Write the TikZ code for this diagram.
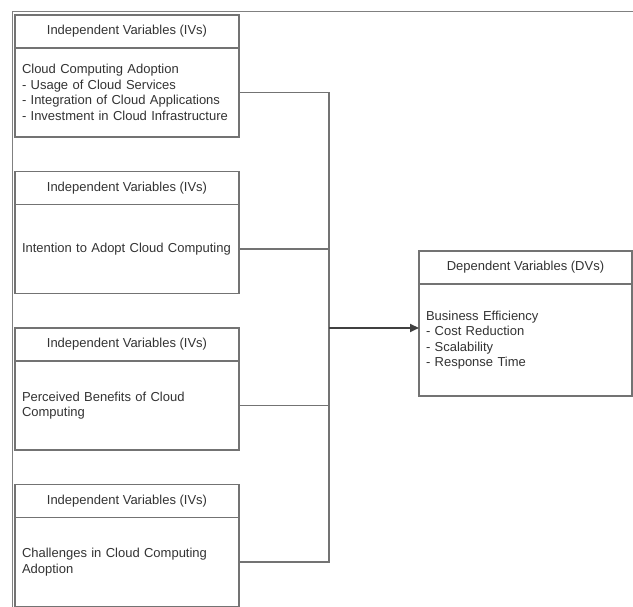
\documentclass[tikz,border=0pt]{standalone}
\usepackage{fontspec}
\setmainfont{Liberation Sans}
\usetikzlibrary{positioning,arrows.meta}
\colorlet{partLine}{black!55}
\colorlet{frameLine}{black!50}
\colorlet{partText}{black!80}
\colorlet{mainArrow}{black!75}

\begin{document}
\begin{tikzpicture}[
  x=1pt,
  y=1pt,
  every node/.style={
    font=\fontsize{13}{15.5}\selectfont,
    text=partText,
  },
  every part/.style={
    draw=partLine,
    line width=1.3pt,
    fill=white,
    outer sep=0pt,
    minimum width=224pt,
  },
  iv head/.style={
    every part/.try,
    minimum height=33pt,
  },
  iv body/.style={
    every part/.try,
    minimum height=89pt,
    text width=210pt,
    inner xsep=7pt,
    align=left,
  },
  dv head/.style={
    iv head,
    minimum width=213pt,
  },
  dv body/.style={
    every part/.try,
    minimum width=213pt,
    minimum height=112pt,
    text width=199pt,
    inner xsep=7pt,
    align=left,
  },
  frame/.style={
    draw=frameLine,
    line width=1.5pt,
  },
  link/.style={
    draw=partLine,
    line width=1.3pt,
  },
  main link/.style={
    draw=mainArrow,
    line width=2pt,
    -{Triangle[length=9pt,width=8pt]},
  }
]
\useasboundingbox (0,0) rectangle (633,607);
\draw[frame] (633,595.5) -- (12.5,595.5) -- (12.5,0);
% independent variables
\node[iv head] (h1) at (127,575.5) {Independent Variables (IVs)};
\node[iv body,below=0pt of h1] (b1) {Cloud Computing Adoption\\- Usage of Cloud Services\\- Integration of Cloud Applications\\- Investment in Cloud Infrastructure};
\foreach[evaluate=\k as \kmo using int(\k-1)] \k/\txt in {2/{Intention to Adopt Cloud Computing},3/{Perceived Benefits of Cloud\\Computing},4/{Challenges in Cloud Computing\\Adoption}}
{
  \node[iv head,below=34.5pt of b\kmo] (h\k) {Independent Variables (IVs)};
  \node[iv body,below=0pt of h\k] (b\k) {\txt};
}
% dependent variables
\node[dv head] (dvh) at (525.5,339.5) {Dependent Variables (DVs)};
\node[dv body,below=0pt of dvh] (dvb) {Business Efficiency\\- Cost Reduction\\- Scalability\\- Response Time};
\coordinate (bus) at (329,279);
\foreach \k in {1,...,4}
  \draw[link] (b\k.east) -| (bus);
\draw[main link] (bus) -- (bus -| dvb.west);
\end{tikzpicture}
\end{document}
